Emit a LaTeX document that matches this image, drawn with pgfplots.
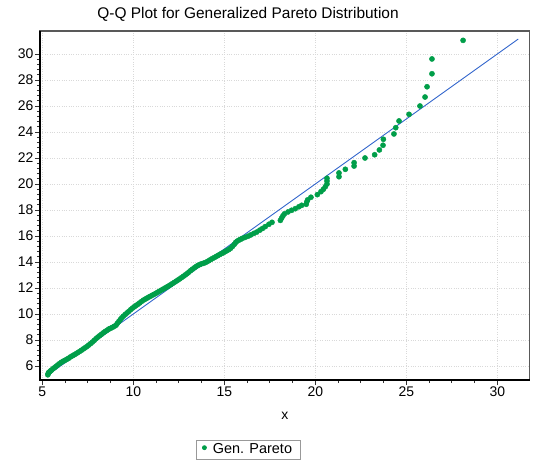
\documentclass[border=0pt]{standalone}
\usepackage{fontspec}
\setmainfont{Liberation Sans}
\usepackage{pgfplots}
\pgfplotsset{compat=1.18}
\definecolor{ptgreen}{RGB}{0,158,73}
\definecolor{lineblue}{RGB}{51,102,204}
\begin{document}
\begin{tikzpicture}
\begin{axis}[name=ax, scale only axis, width=489.5bp, height=349bp,
 xmin=4.87, xmax=31.77, ymin=4.92, ymax=31.77,
 xtick={5,10,...,30}, ytick={6,8,...,30},
 minor x tick num=3, minor y tick num=4,
 tick align=outside, xtick pos=bottom, ytick pos=left,
 major tick length=5bp, minor tick length=3bp,
 every tick/.style={black!80, line width=0.8bp},
 grid=major, grid style={dotted, black!15, line width=0.7bp},
 axis line style={draw=black!65, line width=1.6bp},
 tick label style={font=\fontsize{14}{16}\selectfont, inner sep=1.5bp},
 /pgf/number format/assume math mode=true,
 xlabel={x},
 xlabel style={font=\fontsize{14}{16}\selectfont, at={(axis description cs:0.5,0)}, anchor=center, yshift=-36bp},
 title={Q-Q Plot for Generalized Pareto Distribution},
 title style={font=\fontsize{15.5}{18}\selectfont, at={(axis description cs:0.425,1)}, anchor=base, yshift=7bp},
 legend style={at={(axis description cs:0.425,0)}, anchor=north, yshift=-60bp, draw=black!40, line width=0.8bp, font=\fontsize{14.5}{17}\selectfont, inner xsep=6bp, inner ysep=1.5bp},
 legend cell align=left,
 legend image code/.code={\fill[ptgreen] (0bp,2bp) circle (2bp);},
]
\addplot[lineblue, line width=0.9bp, forget plot] coordinates {(5.3,5.3) (31.15,31.15)};
\addplot[only marks, mark=*, mark size=2.6bp, ptgreen, mark options={draw=ptgreen, fill=ptgreen}] coordinates {
(5.30,5.32) (5.32,5.42) (5.35,5.50) (5.40,5.55) (5.45,5.62) (5.50,5.68) (5.58,5.78) (5.66,5.86)
(5.75,5.97) (5.85,6.08) (5.95,6.19) (6.05,6.29) (6.15,6.37) (6.25,6.44) (6.35,6.52) (6.45,6.60)
(6.55,6.70) (6.65,6.78) (6.75,6.86) (6.85,6.94) (6.95,7.03) (7.05,7.12) (7.15,7.21) (7.25,7.31)
(7.35,7.40) (7.45,7.50) (7.55,7.61) (7.65,7.72) (7.75,7.84) (7.85,7.97) (7.95,8.10) (8.05,8.22)
(8.15,8.33) (8.25,8.44) (8.35,8.55) (8.45,8.65) (8.55,8.74) (8.65,8.84) (8.75,8.90) (8.85,8.97)
(8.95,9.05) (9.05,9.14) (9.12,9.28) (9.20,9.42) (9.28,9.56) (9.36,9.70) (9.45,9.83) (9.55,9.96)
(9.65,10.08) (9.75,10.20) (9.85,10.33) (9.95,10.45) (10.05,10.55) (10.15,10.65) (10.25,10.75) (10.35,10.85)
(10.45,10.96) (10.55,11.06) (10.65,11.14) (10.75,11.22) (10.85,11.30) (10.95,11.37) (11.05,11.45) (11.15,11.52)
(11.25,11.60) (11.35,11.68) (11.45,11.76) (11.55,11.84) (11.65,11.92) (11.75,12.00) (11.85,12.08) (11.95,12.16)
(12.05,12.25) (12.15,12.34) (12.25,12.43) (12.35,12.52) (12.45,12.61) (12.55,12.70) (12.65,12.80) (12.75,12.90)
(12.85,13.00) (12.95,13.10) (13.05,13.22) (13.15,13.34) (13.25,13.45) (13.35,13.55) (13.45,13.65) (13.55,13.74)
(13.65,13.80) (13.75,13.86) (13.85,13.90) (13.95,13.95) (14.05,14.02) (14.15,14.10) (14.25,14.19) (14.35,14.27)
(14.45,14.34) (14.55,14.42) (14.65,14.50) (14.75,14.58) (14.85,14.65) (14.95,14.72) (15.05,14.80) (15.15,14.88)
(15.25,14.96) (15.35,15.06) (15.45,15.20) (15.55,15.36) (15.62,15.50) (15.70,15.60) (15.80,15.68) (15.90,15.75)
(16.00,15.82) (16.15,15.90) (16.30,15.98) (16.45,16.08) (16.62,16.20) (16.78,16.30)
(16.95,16.45) (17.10,16.58) (17.25,16.72) (17.45,16.90) (17.62,17.05)
(18.08,17.20) (18.15,17.38) (18.22,17.55) (18.30,17.70) (18.50,17.85) (18.70,17.98) (18.90,18.10)
(19.10,18.25) (19.25,18.36) (19.50,18.44) (19.53,18.62) (19.58,18.78) (19.76,18.98) (20.11,19.18)
(20.31,19.41) (20.44,19.59) (20.55,19.79) (20.64,20.00) (20.64,20.23) (20.64,20.44)
(21.30,20.56) (21.30,20.85) (21.65,21.13) (22.13,21.38) (22.13,21.64) (22.73,22.00)
(23.26,22.25) (23.52,22.62) (23.72,22.98) (23.74,23.44) (24.32,23.85) (24.42,24.33)
(24.60,24.85) (25.15,25.36) (25.75,26.00) (26.03,26.69) (26.14,27.48) (26.41,28.48)
(26.41,29.62) (28.12,31.05)
};
\addlegendentry{\hspace{4bp}Gen. Pareto}
\end{axis}
\draw[black, line width=1.6bp] (ax.north west) -- (ax.south west) -- (ax.south east);
\path[use as bounding box] ([xshift=-40bp,yshift=-79bp]ax.south west) rectangle ([xshift=7.5bp,yshift=31bp]ax.north east);
\end{tikzpicture}
\end{document}
